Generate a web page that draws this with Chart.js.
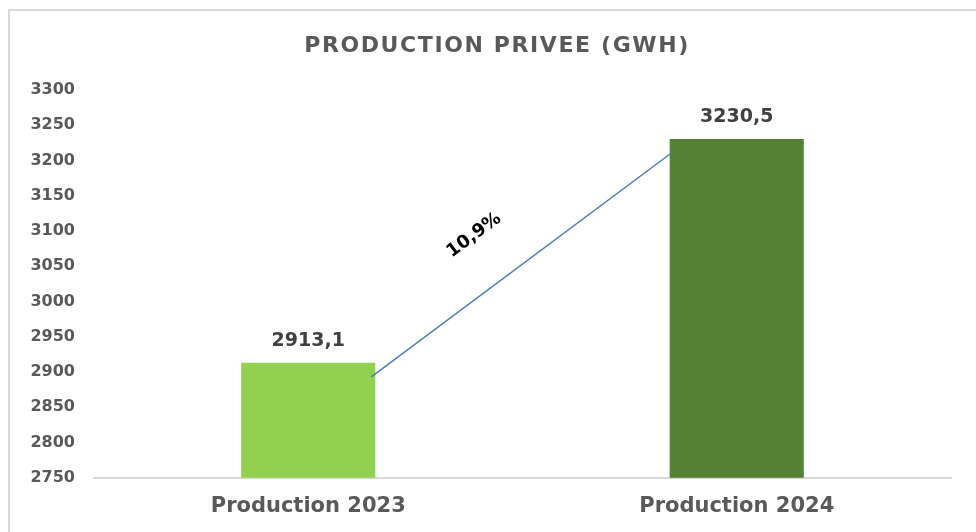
<!DOCTYPE html>
<html>
<head>
<meta charset="utf-8">
<script src="https://cdn.jsdelivr.net/npm/chart.js@4"></script>
<style>
  html, body { margin: 0; padding: 0; background: #fff; overflow: hidden; }
  canvas { display: block; }
</style>
</head>
<body>
<canvas id="barChart" width="976" height="532"></canvas>
<script>
const categories = ["Production 2023", "Production 2024"];
const production = [2913.1, 3230.5];
const barColors = ["#92d050", "#548235"];
const growthLabel = "10,9%";
const chartTitle = "PRODUCTION PRIVEE (GWH)";
const yMin = 2750;
const yMax = 3300;
const yStep = 50;

const fmt = (v) => v.toFixed(1).replace(".", ",");

// light frame (left + top edge) and the wide title
const frameAndTitle = {
  id: "frameAndTitle",
  beforeDraw(chart) {
    const ctx = chart.ctx;
    ctx.save();
    ctx.strokeStyle = "#d9d9d9";
    ctx.lineWidth = 2;
    ctx.beginPath();
    ctx.moveTo(9, chart.height);
    ctx.lineTo(9, 10);
    ctx.lineTo(chart.width, 10);
    ctx.stroke();
    ctx.restore();
  },
  afterDraw(chart) {
    const ctx = chart.ctx;
    ctx.save();
    ctx.letterSpacing = "1.6px";
    ctx.font = "bold 22px 'DejaVu Sans'";
    ctx.fillStyle = "#595959";
    ctx.textAlign = "center";
    ctx.textBaseline = "middle";
    ctx.fillText(chartTitle, chart.width / 2 + 9, 46);
    ctx.restore();
  }
};

// value labels above bars + growth line between the bars
const annotations = {
  id: "annotations",
  afterDatasetsDraw(chart) {
    const ctx = chart.ctx;
    const bars = chart.getDatasetMeta(0).data;
    ctx.save();
    ctx.font = "bold 19px 'DejaVu Sans'";
    ctx.fillStyle = "#404040";
    ctx.textAlign = "center";
    ctx.textBaseline = "middle";
    bars.forEach((b, i) => {
      ctx.fillText(fmt(production[i]), b.x, b.y - 22);
    });

    const a = bars[0], b = bars[1];
    const x1 = a.x + a.width / 2 - 4, y1 = a.y + 14;
    const x2 = b.x - b.width / 2 + 3, y2 = b.y + 13;
    ctx.strokeStyle = "#4a7ebb";
    ctx.lineWidth = 1.5;
    ctx.beginPath();
    ctx.moveTo(x1, y1);
    ctx.lineTo(x2, y2);
    ctx.stroke();

    const ang = Math.atan2(y2 - y1, x2 - x1);
    const mx = (x1 + x2) / 2, my = (y1 + y2) / 2;
    const ux = Math.cos(ang), uy = Math.sin(ang);
    const nx = uy, ny = -ux;
    const lx = mx - ux * 21 + nx * 52;
    const ly = my - uy * 21 + ny * 52;
    ctx.translate(lx, ly);
    ctx.rotate(ang);
    ctx.fillStyle = "#000";
    ctx.font = "bold 18px 'DejaVu Sans'";
    ctx.fillText(growthLabel, 0, 0);
    ctx.restore();
  }
};

new Chart(document.getElementById("barChart"), {
  type: "bar",
  data: {
    labels: categories,
    datasets: [{
      data: production,
      backgroundColor: barColors,
      borderWidth: 0,
      barPercentage: 0.313,
      categoryPercentage: 1
    }]
  },
  options: {
    responsive: false,
    animation: false,
    layout: { padding: { left: 20, right: 25, top: 90, bottom: 5 } },
    plugins: {
      legend: { display: false },
      tooltip: { enabled: false },
      title: { display: false }
    },
    scales: {
      x: {
        grid: { display: false },
        border: { display: true, color: "#d9d9d9", width: 2 },
        ticks: {
          color: "#595959",
          padding: 8,
          font: { family: "'DejaVu Sans'", size: 21, weight: "bold" }
        }
      },
      y: {
        min: yMin,
        max: yMax,
        grid: { display: false },
        border: { display: false },
        afterFit(scale) { scale.width = 74; },
        ticks: {
          stepSize: yStep,
          color: "#595959",
          padding: 11,
          font: { family: "'DejaVu Sans'", size: 16, weight: "bold" },
          callback: (v) => String(v)
        }
      }
    }
  },
  plugins: [frameAndTitle, annotations]
});
</script>
</body>
</html>
